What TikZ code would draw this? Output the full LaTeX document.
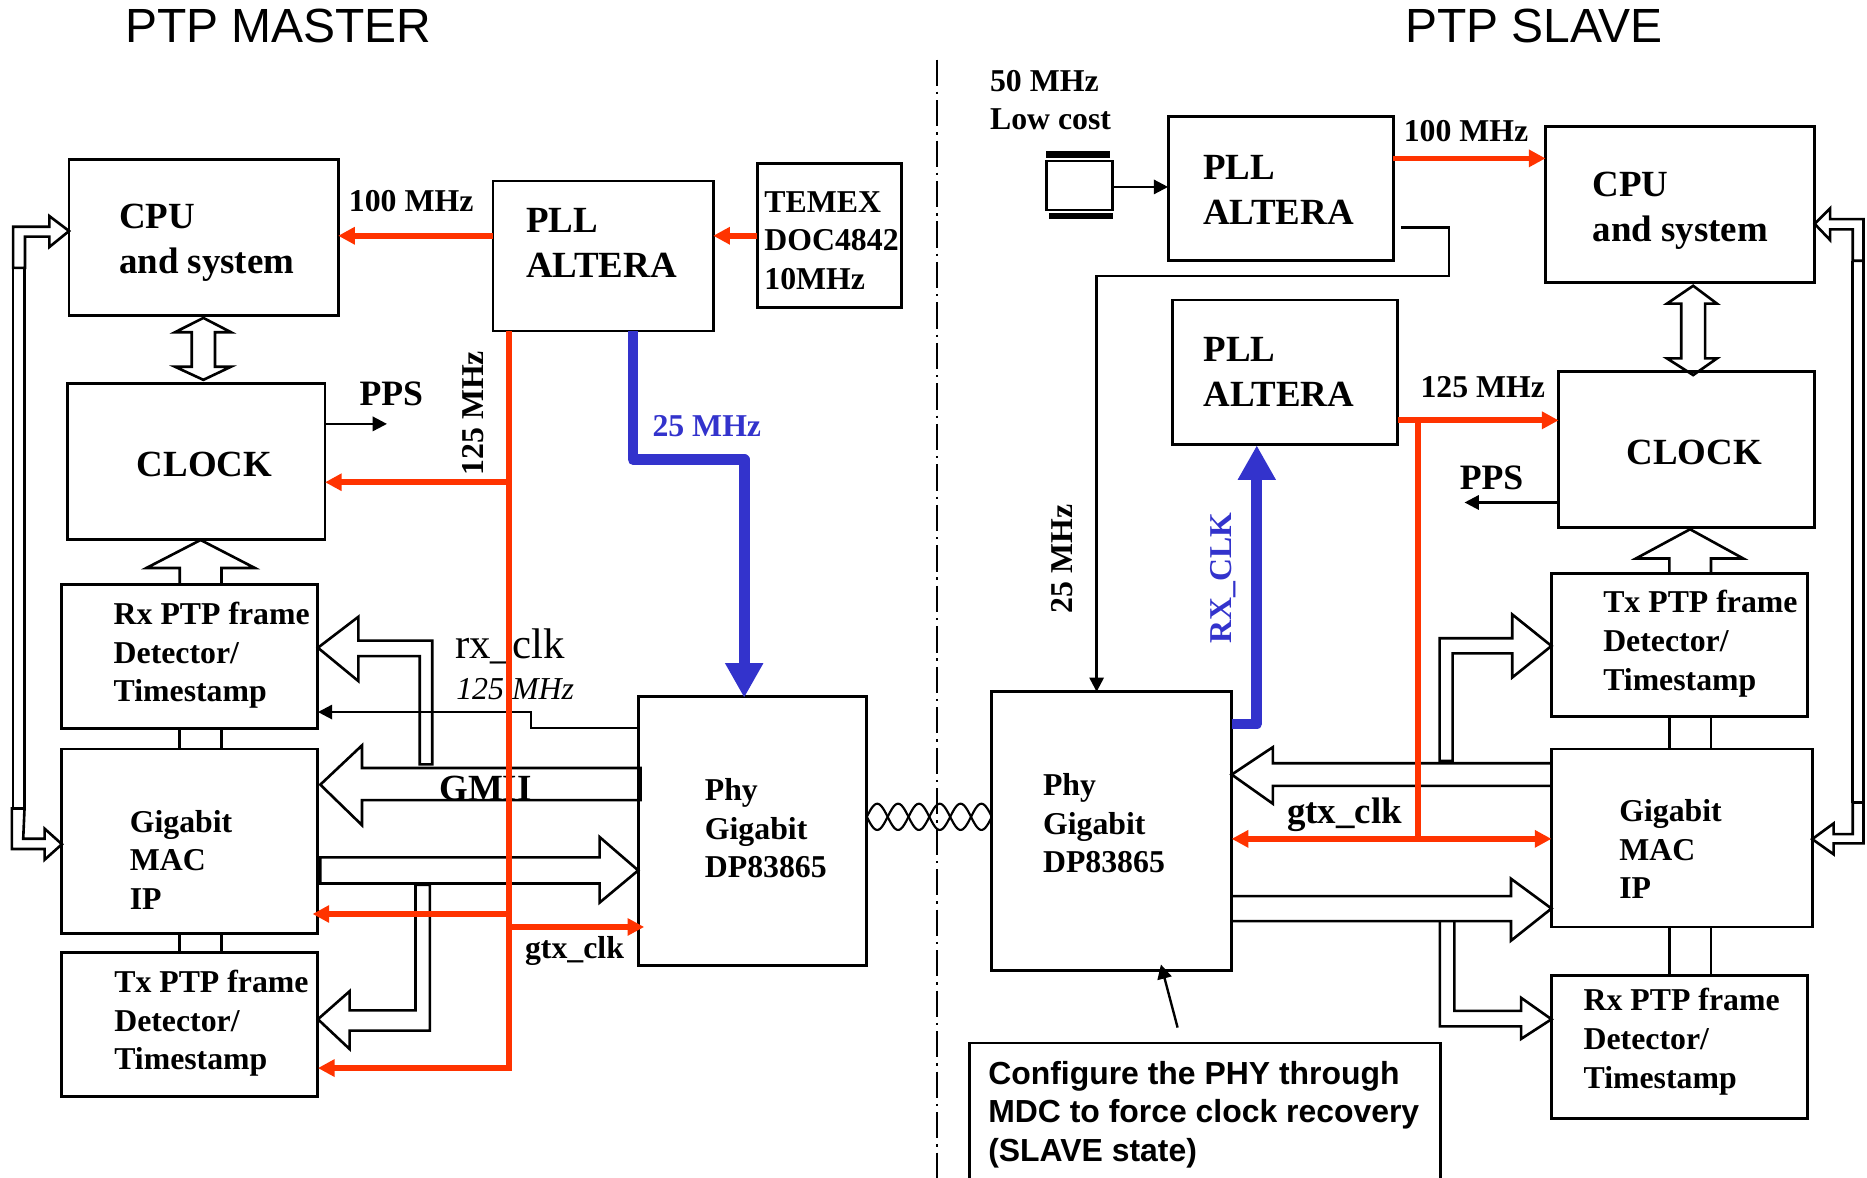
\documentclass[tikz,border=0pt]{standalone}
\usepackage{fontspec}
\setmainfont{Liberation Serif}
\setsansfont{Liberation Sans}
\usetikzlibrary{arrows.meta}
\definecolor{redclk}{HTML}{FF3300}
\definecolor{blueclk}{HTML}{3333CC}
\tikzset{
  boxn/.style={draw=black,line width=2.4pt,inner sep=0pt,outer sep=0pt,anchor=north west,fill=none},
  smalltxt/.style={font=\bfseries\fontsize{26.7}{32.5}\selectfont,anchor=west,align=left,inner sep=0pt,outer sep=0pt},
  bigtxt/.style={font=\bfseries\fontsize{31}{37.8}\selectfont,anchor=west,align=left,inner sep=0pt,outer sep=0pt},
  titletxt/.style={font=\sffamily\fontsize{40.3}{44}\selectfont,anchor=west,inner sep=0pt,outer sep=0pt},
  hollow/.style={draw=black,line width=2.2pt,line join=miter,fill=none},
  thin link/.style={draw=black,line width=2.2pt},
  redwire/.style={draw=redclk,line width=4.8pt},
  redarrow/.style={draw=redclk,line width=4.8pt,-{Triangle[length=14pt,width=14pt]}},
  bluearrow/.style={draw=blueclk,line width=9pt,line join=round,-{Triangle[length=29pt,width=30pt]}},
  blackarrow/.style={draw=black,line width=2pt,-{Triangle[length=12pt,width=12pt]}},
}
\newcommand\bx[5]{\node[boxn,minimum width={#4pt-#2pt},minimum height={#5pt-#3pt}] (#1) at (#2,#3) {};}
\begin{document}
\begin{tikzpicture}[x=1pt,y=-1pt]
\useasboundingbox (0,0) rectangle (1568,989);
% Titles
\node[titletxt] (tm) at (105,22) {PTP MASTER};
\node[titletxt] (ts) at (1180,22) {PTP SLAVE};
% Separator
\coordinate (sepT) at (787,50);
\coordinate (sepB) at (787,989);
\draw[line width=1.6pt,dash pattern=on 22pt off 5pt on 2pt off 5pt] (sepT) -- (sepB);
% Master boxes
\bx{cpuL}{58}{134}{284}{265}
\bx{clkL}{57}{322}{273}{453}
\bx{pllL}{414}{152}{599}{278}
\bx{temex}{636}{137}{757}{258}
\bx{rxL}{52}{491}{267}{612}
\bx{macL}{52}{629}{267}{784}
\bx{txL}{52}{800}{267}{921}
\bx{phyL}{536}{585}{728}{811}
% Slave boxes
\bx{pllA}{981}{98}{1170}{219}
\bx{pllB}{985}{252}{1174}{373}
\bx{cpuR}{1298}{106}{1524}{237}
\bx{clkR}{1309}{312}{1524}{443}
\bx{txR}{1303}{482}{1518}{602}
\bx{macR}{1303}{629}{1522}{778.5}
\bx{rxR}{1303}{819}{1518}{939.5}
\bx{phyR}{833}{581}{1034.4}{815}
\bx{cfg}{814}{876}{1210}{1010}
% Crystal
\bx{xtal}{879}{135.2}{934}{176.4}
\fill[black] (878.4,126.8) rectangle (932,133);
\fill[black] (881,178.6) rectangle (934.7,184);
% Box links master
\draw[thin link] (151,612) -- (151,629) (186,612) -- (186,629);
\draw[thin link] (151,784) -- (151,800) (186,784) -- (186,800);
% Box links slave
\draw[thin link] (1402,602) -- (1402,629) (1437,602) -- (1437,629);
\draw[thin link] (1402,778.5) -- (1402,819) (1437,778.5) -- (1437,819);
% CPU <-> CLOCK master
\draw[hollow] (170.8,267) -- (194,279) -- (180.6,279) -- (180.6,308) -- (194,308) -- (170.8,319) -- (147,308) -- (161,308) -- (161,279) -- (147,279) -- cycle;
% Rx -> CLOCK master
\draw[hollow] (151,491) -- (151,477) -- (123,477) -- (168.5,453.5) -- (214,477) -- (186,477) -- (186,491);
% long master bus
\draw[hollow] (cpuL.west |- 0,194) -- (41.5,181.5) -- (41.5,190.4) -- (11,190.4) -- (11,225) -- (21,225) -- (21,198.7) -- (41.5,198.7) -- (41.5,207.4) -- cycle;
\draw[hollow] (11,225) -- (11,679) (20.5,225) -- (20.5,679);
\draw[hollow] (macL.west |- 0,709) -- (37.5,696) -- (37.5,704.4) -- (19.5,704.4) -- (20.6,679) -- (10,679) -- (10,713) -- (37.5,713) -- (37.5,722) -- cycle;
% Rx hollow
\draw[hollow] (rxL.east |- 0,544) -- (301,518) -- (301,538) -- (363,538) -- (363,642) -- (352.5,642) -- (352.5,551) -- (301,551) -- (301,572) -- cycle;
% GMII hollow
\draw[hollow] (269,659) -- (304,626) -- (304,645) -- (538,645) -- (538,672) -- (304,672) -- (304,693) -- cycle;
% MAC->PHY hollow
\draw[hollow] (269,720) -- (503.6,720) -- (503.6,703) -- (phyL.west |- 0,731) -- (503.6,758) -- (503.6,742) -- (269,742) -- cycle;
% Tx hollow
\draw[hollow] (txL.east |- 0,856) -- (293.6,832.5) -- (293.6,848.5) -- (349,848.5) -- (349,743) -- (361,743) -- (361,865.6) -- (293.6,865.6) -- (293.6,881) -- cycle;
% CPU <-> CLOCK slave
\draw[hollow] (1422,240) -- (1442,255) -- (1432,255) -- (1432,301) -- (1442,301) -- (1422,315) -- (1400,301) -- (1412,301) -- (1412,255) -- (1400,255) -- cycle;
% Tx -> CLOCK slave
\draw[hollow] (1402,482) -- (1402,469) -- (1374,469) -- (1419.4,444.5) -- (1464,469) -- (1437,469) -- (1437,482);
% long slave bus
\draw[hollow] (cpuR.east |- 0,188) -- (1537,175) -- (1537,184) -- (1565,184) -- (1565,219) -- (1556,219) -- (1556,192.6) -- (1537,192.6) -- (1537,201.6) -- cycle;
\draw[hollow] (1556,219) -- (1556,674) (1565,219) -- (1565,674);
\draw[hollow] (macR.east |- 0,704.7) -- (1540,691.5) -- (1540,700.5) -- (1556,700.5) -- (1556,674) -- (1565,674) -- (1565,708.3) -- (1540,708.3) -- (1540,717.5) -- cycle;
% Tx hollow slave
\draw[hollow] (txR.west |- 0,542.5) -- (1270,516) -- (1270,536) -- (1209,536) -- (1209,639) -- (1220,639) -- (1220,548.7) -- (1270,548.7) -- (1270,569) -- cycle;
% MAC -> PHY slave
\draw[hollow] (1303,641) -- (1069,641) -- (1069,627.5) -- (phyR.east |- 0,650.5) -- (1069,675) -- (1069,660) -- (1303,660);
% PHY -> MAC slave
\draw[hollow] (1034.4,752.6) -- (1269,752.6) -- (1269,738) -- (macR.west |- 0,763) -- (1269,790) -- (1269,773.6) -- (1034.4,773.6);
% Rx hollow slave
\draw[hollow] (1221.4,774) -- (1221.4,849) -- (1277.5,849) -- (1277.5,838) -- (rxR.west |- 0,856) -- (1277.5,872.5) -- (1277.5,862) -- (1209.3,862) -- (1209.3,774);
% Twisted pair
\draw[line width=1.8pt] plot[domain=0:6,samples=121,smooth] ({728+17.5*\x},{686+11*sin(180*\x)});
\draw[line width=1.8pt] plot[domain=0:6,samples=121,smooth] ({728+17.5*\x},{686-11*sin(180*\x)});
% Master text
\node[bigtxt] (tCpuL) at (100,204) {CPU\\and system};
\node[bigtxt] (tClkL) at (115,390) {CLOCK};
\node[bigtxt] (tPllL) at (442,204) {PLL\\ALTERA};
\node[smalltxt] (tTem) at (642,202) {TEMEX\\DOC4842\\10MHz};
\node[smalltxt] (tRx) at (95.5,550.5) {Rx PTP frame\\Detector/\\Timestamp};
\node[smalltxt] (tMac) at (109,722) {Gigabit\\MAC\\IP};
\node[smalltxt] (tTx) at (96,859.5) {Tx PTP frame\\Detector/\\Timestamp};
\node[smalltxt] (tPhyL) at (592,695.5) {Phy\\Gigabit\\DP83865};
\node[smalltxt] (t100L) at (293,169) {100 MHz};
\node[smalltxt,font=\bfseries\fontsize{30}{34}\selectfont] (tPpsL) at (302,331) {PPS};
\node[smalltxt,rotate=90,anchor=center] (t125L) at (397,347) {125 MHz};
\node[smalltxt,text=blueclk] (t25B) at (548,358) {25 MHz};
\node[anchor=west,inner sep=0pt,font=\fontsize{36}{40}\selectfont] (tRxClk) at (382,543) {rx\_clk};
\node[anchor=west,inner sep=0pt,font=\itshape\fontsize{26.8}{30}\selectfont] (t125i) at (383,579) {125 MHz};
\node[bigtxt] (tGmii) at (369,662) {GMII};
\node[smalltxt] (tGtxL) at (441,799) {gtx\_clk};
% Slave text
\node[smalltxt] (t50) at (831.5,84) {50 MHz\\Low cost};
\node[bigtxt] (tPllA) at (1010.5,159.5) {PLL\\ALTERA};
\node[bigtxt] (tPllB) at (1011,312.5) {PLL\\ALTERA};
\node[smalltxt] (t100R) at (1179,110) {100 MHz};
\node[bigtxt] (tCpuR) at (1337.5,177) {CPU\\and system};
\node[smalltxt] (t125R) at (1193,325) {125 MHz};
\node[bigtxt] (tClkR) at (1366,380) {CLOCK};
\node[smalltxt,font=\bfseries\fontsize{30}{34}\selectfont] (tPpsR) at (1226,401) {PPS};
\node[smalltxt] (tTxR) at (1346.5,540.5) {Tx PTP frame\\Detector/\\Timestamp};
\node[smalltxt] (tMacR) at (1360,713) {Gigabit\\MAC\\IP};
\node[smalltxt] (tRxR) at (1330,875) {Rx PTP frame\\Detector/\\Timestamp};
\node[smalltxt] (tPhyR) at (876,691.5) {Phy\\Gigabit\\DP83865};
\node[smalltxt,rotate=90,anchor=center] (t25R) at (892,469.5) {25 MHz};
\node[smalltxt,rotate=90,anchor=center,text=blueclk] (tRxCk) at (1027.5,485.5) {RX\_CLK};
\node[bigtxt] (tGtxR) at (1081,684) {gtx\_clk};
\node[smalltxt,font=\sffamily\bfseries\fontsize{26.8}{32.5}\selectfont] (tCfg) at (830,936) {Configure the PHY through\\MDC to force clock recovery\\(SLAVE state)};
% Black connectors
\draw[blackarrow] (clkL.east |- 0,356) -- (325,356);
\coordinate (ppsEndR) at (1230,422);
\draw[blackarrow] (clkR.west |- ppsEndR) -- (ppsEndR);
\draw[blackarrow] (phyL.west |- 0,611.6) -- (446,611.6) -- (446,598) -- (rxL.east |- 0,598);
\draw[blackarrow] (xtal.east |- 0,157) -- (pllA.west |- 0,157);
\coordinate (pllOut) at (1176.6,191);
\draw[blackarrow] (pllOut) -- (1217,191) -- (1217,231.6) -- (921,231.6) -- (921,581);
\coordinate (cfgPt) at (989,863);
\draw[blackarrow] (cfgPt) -- (975,810);
% Red connectors
\draw[redarrow] (pllL.west |- 0,198) -- (cpuL.east |- 0,198);
\draw[redarrow] (temex.west |- 0,198) -- (pllL.east |- 0,198);
\draw[redwire] (427.5,0 |- pllL.south) -- (427.5,897);
\draw[redarrow] (429.8,405) -- (clkL.east |- 0,405);
\draw[redarrow] (429.8,767.6) -- (262.5,767.6);
\draw[redarrow] (425.2,778.5) -- (541,778.5);
\draw[redarrow] (429.8,897) -- (txL.east |- 0,897);
\draw[redarrow] (pllA.east |- 0,133) -- (cpuR.west |- 0,133);
\draw[redarrow] (pllB.east |- 0,353) -- (clkR.west |- 0,353);
\draw[redwire] (1191,351) -- (1191,706);
\draw[redarrow] (1191,704.5) -- (macR.west |- 0,704.5);
\draw[redarrow] (1191,704.5) -- (phyR.east |- 0,704.5);
% Blue connectors
\draw[bluearrow] (531.5,0 |- pllL.south) -- (531.5,386) -- (625,386) -- (625,586);
\draw[bluearrow] (phyR.east |- 0,608) -- (1055.5,608) -- (1055.5,374);
\end{tikzpicture}
\end{document}
